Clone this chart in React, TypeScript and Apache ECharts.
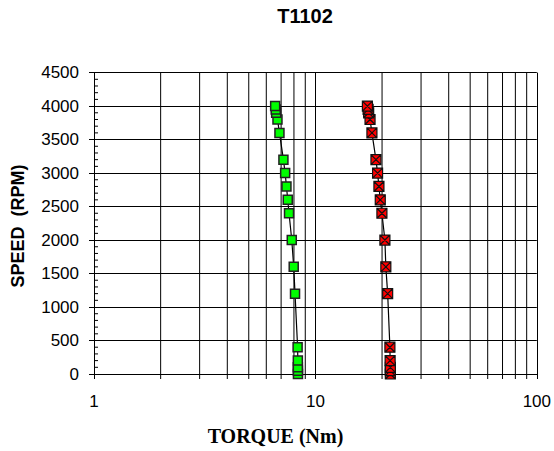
import React, { useEffect, useRef } from "react";
import * as echarts from "echarts";

const speedRpm = [0, 50, 100, 200, 400, 1200, 1600, 2000, 2400, 2600, 2800, 3000, 3200, 3600, 3800, 3900, 3950, 4000];
const torqueGreen = [8.34, 8.34, 8.33, 8.33, 8.31, 8.09, 7.98, 7.82, 7.6, 7.5, 7.4, 7.3, 7.17, 6.88, 6.74, 6.65, 6.62, 6.58];
const torqueRed = [21.8, 21.8, 21.8, 21.75, 21.7, 21.2, 20.8, 20.6, 19.97, 19.63, 19.36, 19.09, 18.77, 18.0, 17.65, 17.4, 17.3, 17.17];
const minorTorqueGrid = [2, 3, 4, 5, 6, 7, 8, 9, 20, 30, 40, 50, 60, 70, 80, 90];
const torqueMin = 1;
const torqueMax = 100;
const speedMin = 0;
const speedMax = 4500;
const speedStep = 500;
const speedMinorStep = 100;
const titleText = "T1102";
const xName = "TORQUE (Nm)";
const yName = "SPEED  (RPM)";

export default function App() {
  const ref = useRef<HTMLDivElement>(null);
  useEffect(() => {
    if (!ref.current) return;
    const chart = echarts.init(ref.current, null, { renderer: "svg" });
    const pairs = (xs: number[]) => xs.map((x, i) => [x, speedRpm[i]]);
    const minorSpeedTicks: number[][] = [];
    for (let v = speedMin; v <= speedMax; v += speedMinorStep) {
      if (v % speedStep !== 0) minorSpeedTicks.push([torqueMin, v]);
    }
    chart.setOption({
      animation: false,
      backgroundColor: "#fff",
      grid: { left: 94, right: 13, top: 72.6, bottom: 77 },
      xAxis: {
        type: "log",
        logBase: 10,
        min: torqueMin,
        max: torqueMax,
        axisLine: { show: true, lineStyle: { color: "#000", width: 1 } },
        axisTick: { show: true, length: 5, lineStyle: { color: "#000" } },
        axisLabel: { color: "#000", fontSize: 17, fontFamily: "Liberation Sans, Arial", margin: 19 },
        splitLine: { show: true, lineStyle: { color: "#000", width: 1 } },
      },
      yAxis: {
        type: "value",
        min: speedMin,
        max: speedMax,
        interval: speedStep,
        axisLine: { show: true, lineStyle: { color: "#000", width: 1 } },
        axisTick: { show: true, length: 5, lineStyle: { color: "#000" } },
        axisLabel: {
          color: "#000",
          fontSize: 17,
          fontFamily: "Liberation Sans, Arial",
          margin: 15,
          formatter: (v: number) => String(v),
        },
        splitLine: { show: true, lineStyle: { color: "#000", width: 1 } },
      },
      graphic: [
        {
          type: "text",
          x: 305,
          y: 16,
          style: { text: titleText, fontSize: 20, fontWeight: "bold", fontFamily: "Liberation Sans, Arial", fill: "#000", textAlign: "center", textVerticalAlign: "middle" },
        },
        {
          type: "text",
          x: 275.5,
          y: 436,
          style: { text: xName, fontSize: 20, fontWeight: "bold", fontFamily: "Liberation Serif, Times New Roman", fill: "#000", textAlign: "center", textVerticalAlign: "middle" },
        },
        {
          type: "text",
          x: 18,
          y: 226,
          rotation: Math.PI / 2,
          style: { text: yName, fontSize: 18, fontWeight: "bold", fontFamily: "Liberation Sans, Arial", fill: "#000", textAlign: "center", textVerticalAlign: "middle" },
        },
      ],
      series: [
        {
          type: "custom",
          silent: true,
          z: 1,
          data: minorTorqueGrid.map((v) => [v, speedMin]),
          renderItem: (params: any, api: any) => {
            const v = api.value(0);
            const top = api.coord([v, speedMax]);
            const bottom = api.coord([v, speedMin]);
            return {
              type: "line",
              shape: { x1: top[0], y1: top[1], x2: bottom[0], y2: bottom[1] + 5 },
              style: { stroke: "#000", lineWidth: 1 },
            };
          },
        },
        {
          type: "custom",
          silent: true,
          z: 1,
          data: minorSpeedTicks,
          renderItem: (params: any, api: any) => {
            const p = api.coord([api.value(0), api.value(1)]);
            return {
              type: "line",
              shape: { x1: p[0], y1: p[1], x2: p[0] + 4, y2: p[1] },
              style: { stroke: "#000", lineWidth: 1 },
            };
          },
        },
        {
          type: "line",
          z: 3,
          data: pairs(torqueGreen),
          symbol: "rect",
          symbolSize: 9,
          lineStyle: { color: "#000", width: 1.2 },
          itemStyle: { color: "#00ff00", borderColor: "#222", borderWidth: 1.5 },
        },
        {
          type: "line",
          z: 3,
          data: pairs(torqueRed),
          symbol: "path://M0,0H10V10H0Z M0,0L10,10 M10,0L0,10",
          symbolSize: 10,
          lineStyle: { color: "#000", width: 1.2 },
          itemStyle: { color: "#ff0000", borderColor: "#111", borderWidth: 1.2 },
        },
      ],
    });
    return () => chart.dispose();
  }, []);
  return <div ref={ref} style={{ width: 554, height: 451, position: "absolute", left: 0, top: 0 }} />;
}
